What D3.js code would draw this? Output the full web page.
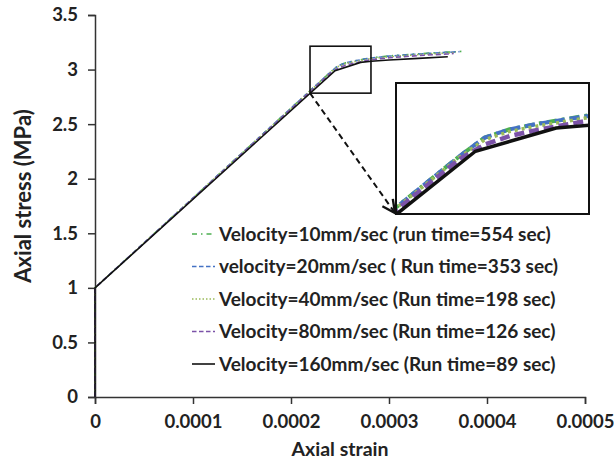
<!DOCTYPE html>
<html><head><meta charset="utf-8">
<script src="https://cdn.jsdelivr.net/npm/d3@7/dist/d3.min.js"></script>
<style>body{margin:0;background:#fff}svg{display:block}text{font-family:Lato,"Open Sans",sans-serif;font-weight:bold;fill:#222}</style>
</head><body><svg id="c" width="614" height="464"></svg>
<script>
const xTicks = [0, 0.0001, 0.0002, 0.0003, 0.0004, 0.0005];
const xTickLabels = ["0", "0.0001", "0.0002", "0.0003", "0.0004", "0.0005"];
const yTicks = [0, 0.5, 1, 1.5, 2, 2.5, 3, 3.5];
const yTickLabels = ["0", "0.5", "1", "1.5", "2", "2.5", "3", "3.5"];
const seriesNames = [
  "Velocity=10mm/sec (run time=554 sec)",
  "velocity=20mm/sec ( Run time=353 sec)",
  "Velocity=40mm/sec (Run time=198 sec)",
  "Velocity=80mm/sec (Run time=126 sec)",
  "Velocity=160mm/sec (Run time=89 sec)"
];
const strain10 = [0, 0, 0.000240, 0.000248, 0.000256, 0.000265, 0.00028, 0.0003, 0.00033, 0.00036, 0.000377];
const stress10 = [0, 1, 2.975, 3.035, 3.062, 3.08, 3.106, 3.125, 3.145, 3.16, 3.168];
const strain20 = [0, 0, 0.000240, 0.000248, 0.000256, 0.000265, 0.00028, 0.0003, 0.00033, 0.00036, 0.000372];
const stress20 = [0, 1, 2.975, 3.035, 3.062, 3.08, 3.104, 3.123, 3.143, 3.158, 3.164];
const strain40 = [0, 0, 0.000240, 0.000248, 0.000256, 0.000265, 0.00028, 0.0003, 0.00033, 0.00036, 0.000368];
const stress40 = [0, 1, 2.972, 3.028, 3.055, 3.073, 3.098, 3.117, 3.137, 3.152, 3.156];
const strain80 = [0, 0, 0.000240, 0.000248, 0.000256, 0.000265, 0.00028, 0.0003, 0.00033, 0.00036, 0.000366];
const stress80 = [0, 1, 2.965, 3.012, 3.040, 3.060, 3.088, 3.108, 3.128, 3.143, 3.147];
const strain160 = [0, 0, 0.000245, 0.000271, 0.000282, 0.0003, 0.00033, 0.00036];
const stress160 = [0, 1, 2.99, 3.066, 3.076, 3.088, 3.103, 3.117];
const zoomStrain = [0.0002194, 0.0002816];
const zoomStress = [2.784, 3.214];

const strains = [strain10, strain20, strain40, strain80, strain160];
const stresses = [stress10, stress20, stress40, stress80, stress160];
const colors = ["#4caf50", "#4472c4", "#9bbb59", "#7b52a8", "#111111"];
const dashes = ["6,4,1.5,4,1.5,4", "5,3", "1.5,2", "5,3", null];

const svg = d3.select("#c");
const x = d3.scaleLinear().domain([0, 0.0005]).range([95, 585]);
const y = d3.scaleLinear().domain([0, 3.5]).range([397, 15]);

const series = seriesNames.map((n, i) => ({name: n, pts: strains[i].map((s, j) => [s, stresses[i][j]])}));

// axes
const xAxis = svg.append("g").attr("transform", `translate(0,${y(0)})`)
  .call(d3.axisBottom(x).tickValues(xTicks).tickFormat((d, i) => xTickLabels[i]).tickSize(7).tickPadding(8));
const yAxis = svg.append("g").attr("transform", `translate(${x(0)},0)`)
  .call(d3.axisLeft(y).tickValues(yTicks).tickFormat((d, i) => yTickLabels[i]).tickSize(7).tickPadding(10));
[xAxis, yAxis].forEach(g => {
  g.select(".domain").attr("stroke", "#333").attr("stroke-width", 1.5);
  g.selectAll(".tick line").attr("stroke", "#333").attr("stroke-width", 1.5);
  g.selectAll("text").attr("font-size", 18.5).attr("font-family", "Lato").attr("font-weight", "bold").attr("fill", "#222");
});
xAxis.selectAll("text").attr("y", 31).attr("dy", 0);

// lines
const line = d3.line().x(d => x(d[0])).y(d => y(d[1]));
series.forEach((s, i) => {
  svg.append("path").attr("d", line(s.pts)).attr("fill", "none")
    .attr("stroke", colors[i]).attr("stroke-width", 1.6)
    .attr("stroke-dasharray", dashes[i]);
});

// zoom box
const bx0 = x(zoomStrain[0]), bx1 = x(zoomStrain[1]), by0 = y(zoomStress[1]), by1 = y(zoomStress[0]);
svg.append("rect").attr("x", bx0).attr("y", by0).attr("width", bx1 - bx0).attr("height", by1 - by0)
  .attr("fill", "none").attr("stroke", "#111").attr("stroke-width", 1.6);

// inset
const ix = d3.scaleLinear().domain(zoomStrain).range([396, 589]);
const iy = d3.scaleLinear().domain(zoomStress).range([214, 83]);
svg.append("defs").append("clipPath").attr("id", "ic").append("rect")
  .attr("x", 396).attr("y", 83).attr("width", 193).attr("height", 131);
svg.append("rect").attr("x", 396).attr("y", 83).attr("width", 193).attr("height", 131)
  .attr("fill", "#fff").attr("stroke", "none");
const iline = d3.line().x(d => ix(d[0])).y(d => iy(d[1]));
const ig = svg.append("g").attr("clip-path", "url(#ic)");
const iw = [4, 4, 3.5, 4.5, 3.5];
const idash = ["10,5,3,5", "10,5", "3,4", "10,5", null];
[0, 1, 2, 3, 4].forEach(i => {
  ig.append("path").attr("d", iline(series[i].pts)).attr("fill", "none")
    .attr("stroke", colors[i]).attr("stroke-width", iw[i]).attr("stroke-dasharray", idash[i]);
});
svg.append("rect").attr("x", 396).attr("y", 83).attr("width", 193).attr("height", 131)
  .attr("fill", "none").attr("stroke", "#111").attr("stroke-width", 2);

// arrow
svg.append("defs").append("marker").attr("id", "ah").attr("viewBox", "0 0 10 10")
  .attr("refX", 9).attr("refY", 5).attr("markerWidth", 8).attr("markerHeight", 8).attr("orient", "auto")
  .append("path").attr("d", "M1,1 L9,5 L1,9").attr("fill", "none").attr("stroke", "#111").attr("stroke-width", 1.5);
svg.append("line").attr("x1", bx0).attr("y1", by1).attr("x2", 395).attr("y2", 213)
  .attr("stroke", "#111").attr("stroke-width", 2).attr("stroke-dasharray", "6,4").attr("marker-end", "url(#ah)");

// legend
const lg = svg.append("g");
seriesNames.forEach((n, i) => {
  const yy = 234 + i * 32.5;
  lg.append("line").attr("x1", 192).attr("x2", 215).attr("y1", yy).attr("y2", yy)
    .attr("stroke", colors[i]).attr("stroke-width", 1.6).attr("stroke-dasharray", dashes[i] ? (i === 0 ? "5,4,1.5,4" : (i === 2 ? "1.5,2" : "4.5,2.5")) : null);
  lg.append("text").attr("x", 219).attr("y", yy).attr("dy", "0.35em").attr("font-size", 19).text(n);
});

// axis titles
svg.append("text").attr("x", 340).attr("y", 456).attr("text-anchor", "middle").attr("font-size", 19.5).text("Axial strain");
svg.append("text").attr("transform", "translate(31,196) rotate(-90)").attr("text-anchor", "middle").attr("font-size", 22).text("Axial stress (MPa)");
</script></body></html>
